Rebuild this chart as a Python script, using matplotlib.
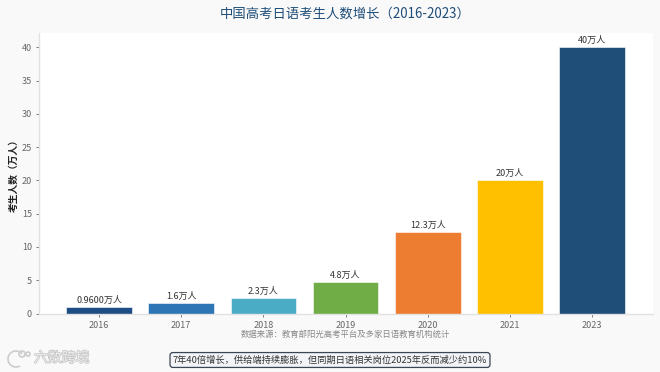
import matplotlib
matplotlib.use('Agg')
import matplotlib.pyplot as plt
import matplotlib.patheffects as pe
from matplotlib.patches import Circle, Arc

plt.rcParams['font.family'] = ['Noto Sans CJK SC', 'DejaVu Sans']

years = ['2016', '2017', '2018', '2019', '2020', '2021', '2023']
students = [0.96, 1.6, 2.3, 4.8, 12.3, 20, 40]
bar_labels = ['0.9600万人', '1.6万人', '2.3万人', '4.8万人', '12.3万人', '20万人', '40万人']
colors = ['#1f4e86', '#2e75b6', '#4bacc6', '#70ad47', '#ed7d31', '#ffc000', '#1f4e79']
yticks = [0, 5, 10, 15, 20, 25, 30, 35, 40]

title = '中国高考日语考生人数增长（2016-2023）'
ylabel = '考生人数（万人）'
source = '数据来源：教育部阳光高考平台及多家日语教育机构统计'
note = '7年40倍增长，供给端持续膨胀，但同期日语相关岗位2025年反而减少约10%'
watermark = '六数跨境'

W, H = 660, 372
fig = plt.figure(figsize=(W / 100, H / 100), dpi=100, facecolor='#f9f9f9')
ax = fig.add_axes([39 / W, 1 - 313.5 / H, 614 / W, 280.5 / H], facecolor='white')

x = range(len(years))
ax.bar(x, students, width=0.8, color=colors, edgecolor='white', linewidth=0.4)
for i, v in enumerate(students):
    ax.annotate(bar_labels[i], (i, v), xytext=(0, 1.5), textcoords='offset points',
                ha='center', va='bottom', fontsize=6.5, color='#333333')

ax.set_xlim(-0.73, 6.74)
ax.set_ylim(0, 42.15)
ax.set_xticks(list(x))
ax.set_xticklabels(years)
ax.set_yticks(yticks)
ax.tick_params(axis='both', labelsize=6.5, labelcolor='#666666', color='#666666', length=2.5, width=0.6, pad=2.5)
ax.tick_params(axis='x', pad=3)
ax.set_ylabel(ylabel, fontsize=7, fontweight='bold', color='#222222', labelpad=2)

for s in ['top', 'right']:
    ax.spines[s].set_visible(False)
for s in ['left', 'bottom']:
    ax.spines[s].set_color('#e2e2e2')
    ax.spines[s].set_linewidth(1.0)

fig.text(345 / W, 1 - 14 / H, title, ha='center', va='center', fontsize=9.6, color='#1f4e79', fontweight='medium')
fig.text(345 / W, 1 - 334 / H, source, ha='center', va='center', fontsize=6, color='#888888')
fig.text(330 / W, 1 - 360 / H, note, ha='center', va='center', fontsize=6.7, color='#333333',
         bbox=dict(boxstyle='round,pad=0.3', facecolor='#f2f4f8', edgecolor='#3a4654', linewidth=0.9))
fig.text(34 / W, 1 - 358 / H, watermark, ha='left', va='center', fontsize=10, color='#ececec',
         path_effects=[pe.withStroke(linewidth=1, foreground='#c4c4c4')])

# watermark logo, drawn in pixels from the bottom left
logo = dict(fill=False, edgecolor='#cccccc', linewidth=1.2, transform=None)
fig.add_artist(Arc((16, H - 359), 16, 16, theta1=40, theta2=300, **logo))
fig.add_artist(Circle((22, H - 354), 3, **logo))
fig.add_artist(Circle((28, H - 354), 2, **logo))

fig.savefig('out.png', dpi=100, facecolor=fig.get_facecolor())
